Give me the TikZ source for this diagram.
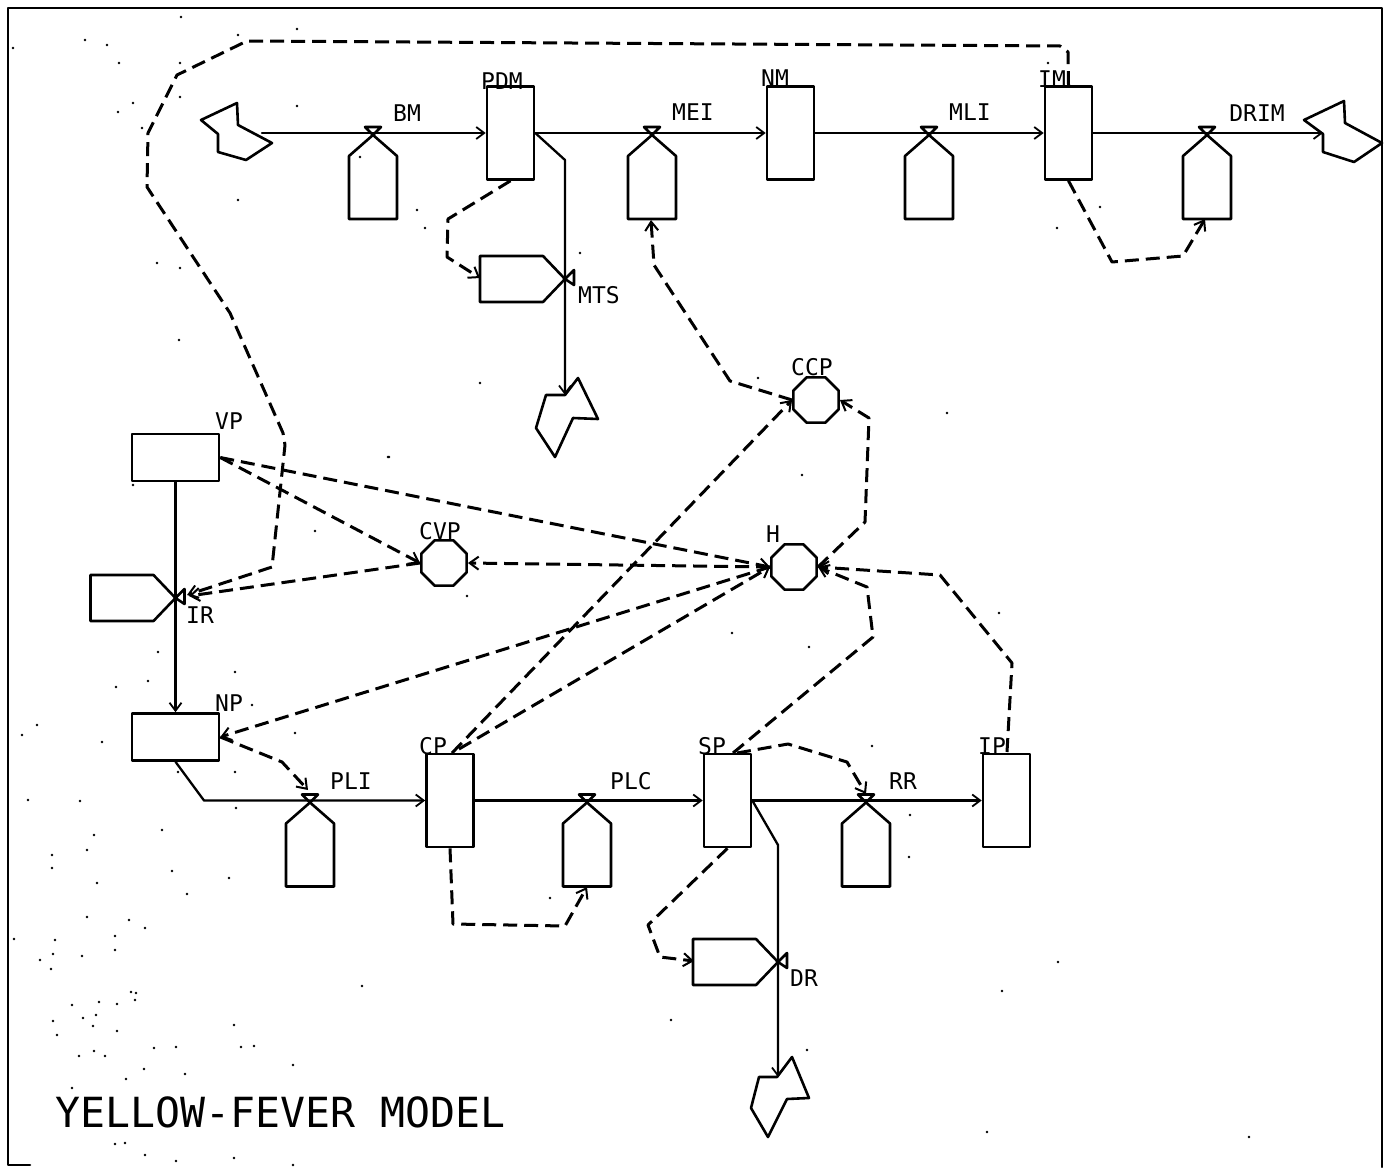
\documentclass[tikz,border=0pt]{standalone}
\usepackage{fontspec}
\setmainfont{DejaVu Sans Mono}
\usetikzlibrary{arrows.meta,shapes.geometric}
\tikzset{
  ink/.style={line width=2.6pt,line join=round,line cap=round},
  flow/.style={ink,line width=2.3pt,-{Straight Barb[length=8pt,width=12pt,line width=1.8pt]}},
  info/.style={line width=3pt,line join=round,dash pattern=on 14pt off 7pt,-{Straight Barb[length=9pt,width=13pt,line width=2pt]}},
  level/.style={draw,ink,rectangle,inner sep=0pt,fill=white},
  tallbox/.style={level,minimum width=47pt,minimum height=93pt},
  widebox/.style={level,minimum width=87pt,minimum height=47pt},
  octa/.style={draw,ink,regular polygon,regular polygon sides=8,minimum size=49pt,inner sep=0pt},
  lab/.style={inner sep=0pt,font=\fontsize{23}{26}\selectfont},
  titlelab/.style={inner sep=0pt,font=\fontsize{41.5}{46}\selectfont},
  downtank/.pic={\draw[ink] (0,2)--(24,23)--(24,86)--(-24,86)--(-24,23)--cycle;
                 \draw[ink] (0,2)--(-8,-6)--(8,-6)--cycle;},
  sidetank/.pic={\draw[ink] (0,0)--(-22,-23)--(-85,-23)--(-85,23)--(-22,23)--cycle;
                 \draw[ink] (0,0)--(9,-9)--(9,6)--cycle;}
}
\begin{document}
\begin{tikzpicture}[x=1pt,y=-1pt]
\useasboundingbox (0,0) rectangle (1394,1167);
% frame
\draw[ink,line width=2.6pt] (30,1165)--(8,1165)--(8,8)--(1382,8)--(1382,1167);
% levels
\node[tallbox] (PDM) at (510.5,133) {};
\node[tallbox] (NM) at (790.5,133) {};
\node[tallbox] (IM) at (1068.5,133) {};
\node[tallbox] (CP) at (450,800.5) {};
\node[tallbox] (SP) at (727.5,800.5) {};
\node[tallbox] (IP) at (1006.5,800.5) {};
\node[widebox] (VP) at (175.5,457.5) {};
\node[widebox] (NP) at (175.5,737) {};
% auxiliaries
\node[octa] (CCP) at (816,400) {};
\node[octa] (H) at (794,567) {};
\node[octa] (CVP) at (444,563) {};
% valves
\coordinate (BM) at (373,133);
\coordinate (MEI) at (652,133);
\coordinate (MLI) at (929,133);
\coordinate (DRIM) at (1207,133);
\coordinate (PLI) at (310,800.5);
\coordinate (PLC) at (587,800.5);
\coordinate (RR) at (866,800.5);
\coordinate (MTS) at (565,279);
\coordinate (IR) at (175.5,598);
\coordinate (DR) at (778,962);
\pic at (BM) {downtank};
\pic at (MEI) {downtank};
\pic at (MLI) {downtank};
\pic at (DRIM) {downtank};
\pic at (PLI) {downtank};
\pic at (PLC) {downtank};
\pic at (RR) {downtank};
\pic at (MTS) {sidetank};
\pic at (IR) {sidetank};
\pic at (DR) {sidetank};
% clouds
\draw[ink] (237,103)--(201,120)--(218,134)--(218,152)--(246,160)--(272,143)--(238,125)--cycle;
\draw[ink] (1344,101)--(1304,120)--(1323,134)--(1323,152)--(1354,162)--(1382,143)--(1345,123)--cycle;
\draw[ink] (578,378)--(598,419)--(573,418)--(555,457)--(536,428)--(546,395)--(565,395)--cycle;
\draw[ink] (792,1057)--(809,1098)--(787,1099)--(768,1137)--(751,1108)--(759,1077)--(777,1077)--cycle;
\coordinate (srcA) at (262,133);
\coordinate (sinkA) at (1323,133);
\coordinate (sinkB) at (565,395);
\coordinate (sinkC) at (778,1077);
% material flows
\draw[flow] (srcA)--(BM)--(PDM.west);
\draw[flow] (PDM.east)--(MEI)--(NM.west);
\draw[flow] (NM.east)--(MLI)--(IM.west);
\draw[flow] (IM.east)--(DRIM)--(sinkA);
\draw[flow] (PDM.east)--(565,160)--(MTS)--(sinkB);
\draw[flow] (VP.south)--(IR)--(NP.north);
\draw[flow] (NP.south)--(204,800.5)--(PLI)--(CP.west);
\draw[flow] (CP.east)--(PLC)--(SP.west);
\draw[flow] (SP.east)--(RR)--(IP.west);
\draw[flow] (SP.east)--(778,845)--(DR)--(sinkC);
% information links
\draw[info] (PDM.south)--(448,219)--(447,257)--(480,278);
\draw[info] (IM.north)--(1068,52)--(1060,46)--(247,41)--(177,75)--(148,133)--(147,187)--(230,313)--(283,433)--(285,445)--(272,567)--(187,595);
\draw[info] (IM.south)--(1112,262)--(1183,256)--(1205,219);
\draw[info] (CCP.180)--(730,381)--(654,265)--(651,220);
\draw[info] (452,753)--(CCP.180);
\draw[info] (459,749)--(H.180);
\draw[info] (VP.east)--(H.180);
\draw[info] (VP.east)--(CVP.180);
\draw[info] (H.180)--(CVP.0);
\draw[info] (CVP.180)--(189,596);
\draw[info] (H.180)--(NP.east);
\draw[info] (NP.east)--(282,762)--(308,790);
\draw[info] (CP.south)--(453,924)--(565,926)--(587,887);
\draw[info] (733,753)--(873,637)--(867,587)--(H.0);
\draw[info] (1007,752)--(1012,663)--(940,575)--(H.0);
\draw[info] (H.0)--(865,522)--(869,418)--(CCP.0);
\draw[info] (737,753)--(788,744)--(847,762)--(866,794);
\draw[info] (SP.south)--(648,925)--(660,957)--(694,961);
% labels
\node[lab] (lBM) at (407,113) {BM};
\node[lab] (lPDM) at (502,81) {PDM};
\node[lab] (lMEI) at (693,112) {MEI};
\node[lab] (lNM) at (775,78) {NM};
\node[lab] (lMLI) at (970,112) {MLI};
\node[lab] (lIM) at (1052,79) {IM};
\node[lab] (lDRIM) at (1257,113) {DRIM};
\node[lab] (lMTS) at (599,295) {MTS};
\node[lab] (lCCP) at (812,367) {CCP};
\node[lab] (lVP) at (229,421) {VP};
\node[lab] (lCVP) at (440,531) {CVP};
\node[lab] (lH) at (773,534) {H};
\node[lab] (lIR) at (200,615) {IR};
\node[lab] (lNP) at (229,703) {NP};
\node[lab] (lPLI) at (351,781) {PLI};
\node[lab] (lCP) at (433,746) {CP};
\node[lab] (lPLC) at (631,781) {PLC};
\node[lab] (lSP) at (712,746) {SP};
\node[lab] (lRR) at (903,781) {RR};
\node[lab] (lIP) at (992,746) {IP};
\node[lab] (lDR) at (804,978) {DR};
\node[titlelab] (title) at (280.5,1112) {YELLOW-FEVER MODEL};
% scan specks
\foreach \px/\py in {87/917,129/920,145/928,115/936,115/950,14/939,55/940,53/954,82/956,40/960,51/969,362/986,131/992,136/993,135/1000,72/1005,99/1002,117/1004,96/1015,83/1018,53/1021,93/1026,117/1031,57/1035,234/1025,241/1047,254/1046,154/1048,176/1047,79/1056,94/1051,105/1056,293/1065,144/1069,185/1074,126/1079,72/1088,115/1144,125/1143,145/1155,176/1161,234/1158,293/1165,85/40,107/45,119/63,133/103,118/112,181/17,180/63,238/35,297/29,297/106,13/48,142/128,180/97,238/200,417/210,425/228,360/157,157/263,180/268,179/340,480/383,580/253,388/457,133/485,389/457,315/531,467/596,158/652,148/681,116/687,235/672,252/705,102/742,295/733,235/772,178/772,236/808,80/801,162/830,94/835,87/850,172/871,229/878,97/883,187/894,550/898,872/746,910/815,909/857,1058/962,1002/991,807/1050,671/1020,987/1132,758/378,947/413,802/475,999/613,809/647,732/633,1057/228,1100/207,1048/63,1249/1137,52/855,52/868,37/725,22/735,28/800}
  \fill (\px,\py) circle[radius=1.4pt];
\end{tikzpicture}
\end{document}
